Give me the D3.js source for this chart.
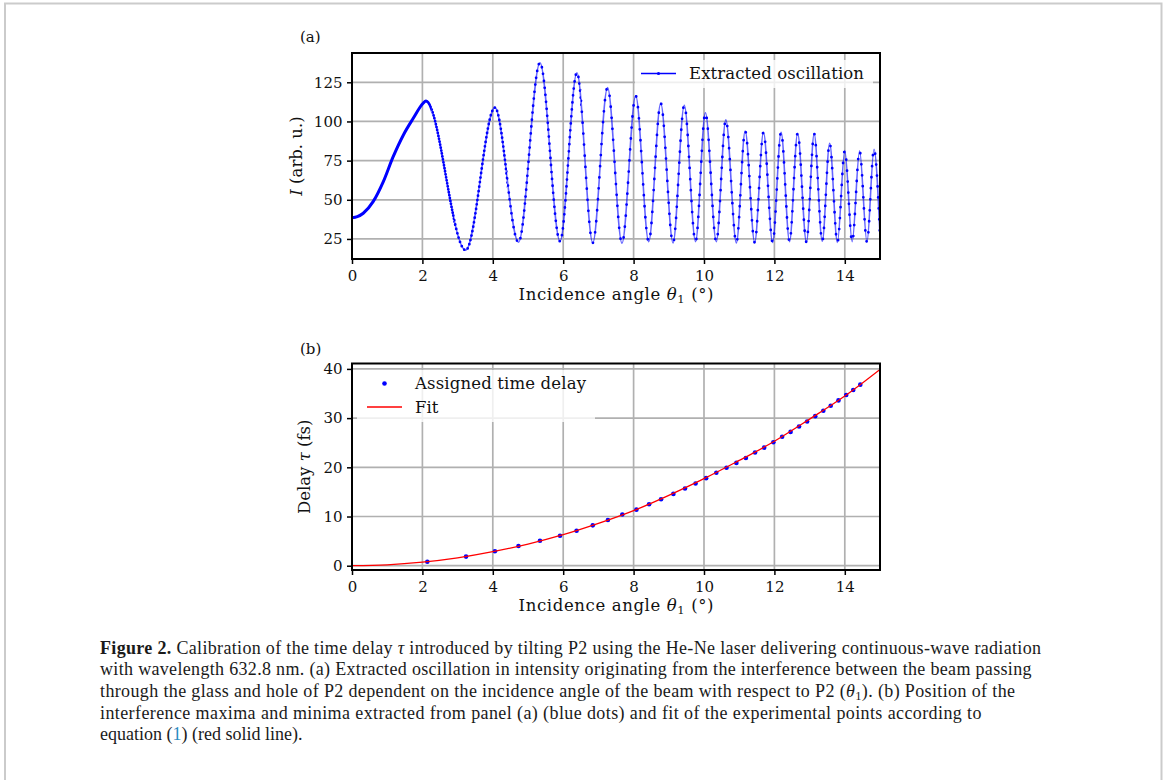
<!DOCTYPE html>
<html>
<head>
<meta charset="utf-8">
<script src="https://cdn.jsdelivr.net/npm/d3@7"></script>
<style>
  body { margin: 0; background: #fff; }
  text { font-family: "DejaVu Serif", serif; }
  text.cap { font-family: "Liberation Serif", "Times New Roman", serif; }
</style>
</head>
<body>
<div id="chart"></div>
<script>
// panel (a): extracted oscillation, slow rise then the maxima / minima
const oscAngle = [0, 0.15, 0.32, 0.6, 0.89, 1.17, 1.46, 1.74, 2.02, 2.10,
    3.23, 4.06, 4.73, 5.34, 5.91, 6.39, 6.84, 7.26, 7.67, 8.06,
    8.43, 8.77, 9.12, 9.44, 9.76, 10.04, 10.35, 10.62, 10.92, 11.17,
    11.44, 11.69, 11.95, 12.19, 12.43, 12.66, 12.91, 13.13, 13.36, 13.57,
    13.79, 14.00, 14.21, 14.42, 14.63, 14.83, 15.0];
const oscIntensity = [38.5, 39.2, 41.4, 48.8, 61.6, 77.5, 91.4, 102, 111.6, 113.1,
    17.8, 108.8, 22.9, 137.5, 23.5, 131.1, 22.5, 121.6, 22.3, 116.3,
    23.3, 111.6, 22.5, 110.3, 23.3, 105.6, 23.3, 101, 22.5, 93.9,
    22.8, 93.1, 22.8, 93.1, 23.3, 92.5, 23, 92.1, 23.5, 86.1,
    22.8, 81.4, 23.3, 81.2, 23, 82.3, 27];

// panel (b): assigned time delay at each extremum
const delayAngle = [2.14, 3.24, 4.06, 4.73, 5.34, 5.91, 6.38, 6.84, 7.27, 7.68,
    8.08, 8.44, 8.78, 9.13, 9.46, 9.76, 10.06, 10.35, 10.64, 10.92,
    11.19, 11.45, 11.71, 11.97, 12.22, 12.46, 12.70, 12.93, 13.16, 13.39,
    13.60, 13.82, 14.04, 14.24, 14.44];
const delayValue = [0.8, 1.85, 2.95, 4.0, 5.08, 6.1, 7.1, 8.2, 9.3, 10.4,
    11.4, 12.5, 13.5, 14.6, 15.7, 16.7, 17.8, 18.9, 19.9, 20.9,
    21.9, 23.0, 24.0, 25.1, 26.2, 27.2, 28.3, 29.3, 30.4, 31.5,
    32.5, 33.6, 34.7, 35.7, 36.8];

// fit curve
const fitAngle = [0, 1, 2, 3, 4, 5, 6, 7, 8, 9, 10, 11, 12, 13, 14, 15];
const fitDelay = [0, 0.18, 0.72, 1.6, 2.85, 4.4, 6.3, 8.6, 11.2, 14.3, 17.7, 21.4, 25.3, 29.8, 34.5, 39.9];

const xTicks = [0, 2, 4, 6, 8, 10, 12, 14];
const yTicksA = [25, 50, 75, 100, 125];
const yTicksB = [0, 10, 20, 30, 40];

const width = 1165;
const height = 780;
const left = 352, right = 880;
const labelSize = '16.5px';

const svg = d3.select('#chart')
    .append('svg')
    .attr('width', width)
    .attr('height', height);

// grey frame round the whole figure
svg.append('rect')
    .attr('x', 5).attr('y', 3.5)
    .attr('width', 1156.5).attr('height', 820)
    .attr('fill', 'none')
    .attr('stroke', '#cbcbcb')
    .attr('stroke-width', 2);

const defs = svg.append('defs');

function panel(top, bottom, yDomain, yTicks) {
    const x = d3.scaleLinear().domain([0, 15]).range([left, right]);
    const y = d3.scaleLinear().domain(yDomain).range([bottom, top]);
    const g = svg.append('g');

    // grid
    g.append('g').selectAll('line').data(xTicks).join('line')
        .attr('x1', d => x(d)).attr('x2', d => x(d))
        .attr('y1', top).attr('y2', bottom)
        .attr('stroke', '#b0b0b0').attr('stroke-width', 1.7);
    g.append('g').selectAll('line').data(yTicks).join('line')
        .attr('x1', left).attr('x2', right)
        .attr('y1', d => y(d)).attr('y2', d => y(d))
        .attr('stroke', '#b0b0b0').attr('stroke-width', 1.7);

    // axes
    const xAxis = g.append('g')
        .attr('transform', 'translate(0,' + bottom + ')')
        .call(d3.axisBottom(x).tickValues(xTicks).tickSize(5).tickPadding(6.5));
    const yAxis = g.append('g')
        .attr('transform', 'translate(' + left + ',0)')
        .call(d3.axisLeft(y).tickValues(yTicks).tickSize(5).tickPadding(4.5));
    [xAxis, yAxis].forEach(a => {
        a.select('.domain').remove();
        a.selectAll('line').attr('stroke', '#000').attr('stroke-width', 1.5);
        a.selectAll('text')
            .style('font-family', 'DejaVu Serif')
            .style('font-size', '15px')
            .attr('fill', '#111');
    });
    return { x, y, g };
}

function spine(top, bottom) {
    svg.append('rect')
        .attr('x', left).attr('y', top)
        .attr('width', right - left).attr('height', bottom - top)
        .attr('fill', 'none')
        .attr('stroke', '#000')
        .attr('stroke-width', 2);
}

function xLabel(yPos) {
    const t = svg.append('text')
        .attr('x', (left + right) / 2).attr('y', yPos)
        .attr('text-anchor', 'middle')
        .attr('textLength', 195).attr('lengthAdjust', 'spacing')
        .style('font-size', labelSize)
        .attr('fill', '#111');
    t.append('tspan').text('Incidence angle ');
    t.append('tspan').attr('font-style', 'italic').text('θ');
    t.append('tspan').attr('font-size', '11.5px').attr('dy', 3).text('1');
    t.append('tspan').attr('dy', -3).text(' (°)');
}

// ---------- panel (a) ----------
const topA = 53, bottomA = 259;
const A = panel(topA, bottomA, [12.2, 143.7], yTicksA);

defs.append('clipPath').attr('id', 'clipA')
    .append('rect').attr('x', left).attr('y', topA)
    .attr('width', right - left).attr('height', bottomA - topA);

const oscData = oscAngle.map((a, i) => [a, oscIntensity[i]]);
const oscLine = d3.line()
    .x(d => A.x(d[0]))
    .y(d => A.y(d[1]))
    .curve(d3.curveMonotoneX);

const oscG = svg.append('g').attr('clip-path', 'url(#clipA)');
oscG.append('path')
    .datum(oscData)
    .attr('d', oscLine)
    .attr('fill', 'none')
    .attr('stroke', '#0000ff')
    .attr('stroke-opacity', 0.6)
    .attr('stroke-width', 1.6);

// sample markers: denser at small angles, like the recorded trace
const markerBands = [
    { from: 0, to: 2.25, gap: 0 },
    { from: 2.25, to: 2.9, gap: 3 },
    { from: 2.9, to: 4.4, gap: 4.5 },
    { from: 4.4, to: 6.5, gap: 7 },
    { from: 6.5, to: 15.2, gap: 11 }
];
markerBands.forEach((b, i) => {
    defs.append('clipPath').attr('id', 'band' + i)
        .append('rect')
        .attr('x', A.x(b.from)).attr('y', topA)
        .attr('width', A.x(b.to) - A.x(b.from)).attr('height', bottomA - topA);
    const p = oscG.append('g').attr('clip-path', 'url(#band' + i + ')')
        .append('path')
        .datum(oscData)
        .attr('d', oscLine)
        .attr('fill', 'none')
        .attr('stroke', '#0000ff');
    if (b.gap === 0) {
        p.attr('stroke-width', 3);
    } else {
        p.attr('stroke-width', 2.8)
            .attr('stroke-linecap', 'round')
            .attr('stroke-dasharray', '0 ' + b.gap);
    }
});

spine(topA, bottomA);

// legend (a)
svg.append('rect')
    .attr('x', 635).attr('y', 60).attr('width', 238).attr('height', 28)
    .attr('rx', 3)
    .attr('fill', '#fff').attr('fill-opacity', 0.8);
svg.append('line')
    .attr('x1', 641).attr('x2', 676).attr('y1', 73.5).attr('y2', 73.5)
    .attr('stroke', '#0000ff').attr('stroke-width', 1.6);
svg.append('circle')
    .attr('cx', 658.5).attr('cy', 73.5).attr('r', 1.6)
    .attr('fill', '#0000ff');
svg.append('text')
    .attr('x', 689).attr('y', 79)
    .attr('textLength', 175).attr('lengthAdjust', 'spacing')
    .style('font-size', labelSize).attr('fill', '#111')
    .text('Extracted oscillation');

// y label (a)
const ylA = svg.append('text')
    .attr('transform', 'translate(302,' + ((topA + bottomA) / 2) + ') rotate(-90)')
    .attr('text-anchor', 'middle')
    .style('font-size', labelSize).attr('fill', '#111');
ylA.append('tspan').attr('font-style', 'italic').text('I');
ylA.append('tspan').text(' (arb. u.)');

xLabel(300);

svg.append('text').attr('x', 300).attr('y', 42)
    .style('font-size', '15px').attr('fill', '#111').text('(a)');

// ---------- panel (b) ----------
const topB = 363.5, bottomB = 570;
const B = panel(topB, bottomB, [-0.87, 41.1], yTicksB);

defs.append('clipPath').attr('id', 'clipB')
    .append('rect').attr('x', left).attr('y', topB)
    .attr('width', right - left).attr('height', bottomB - topB);

const bG = svg.append('g').attr('clip-path', 'url(#clipB)');
bG.append('g').selectAll('circle')
    .data(delayAngle.map((a, i) => [a, delayValue[i]]))
    .join('circle')
    .attr('cx', d => B.x(d[0]))
    .attr('cy', d => B.y(d[1]))
    .attr('r', 2.3)
    .attr('fill', '#0000ff');

bG.append('path')
    .datum(fitAngle.map((a, i) => [a, fitDelay[i]]))
    .attr('d', d3.line().x(d => B.x(d[0])).y(d => B.y(d[1])).curve(d3.curveNatural))
    .attr('fill', 'none')
    .attr('stroke', '#ff0000')
    .attr('stroke-width', 1.3);

spine(topB, bottomB);

// legend (b)
svg.append('rect')
    .attr('x', 357).attr('y', 370).attr('width', 238).attr('height', 52)
    .attr('rx', 3)
    .attr('fill', '#fff').attr('fill-opacity', 0.8);
svg.append('circle')
    .attr('cx', 384.5).attr('cy', 383.5).attr('r', 2.3)
    .attr('fill', '#0000ff');
svg.append('text')
    .attr('x', 415).attr('y', 389)
    .attr('textLength', 171).attr('lengthAdjust', 'spacing')
    .style('font-size', labelSize).attr('fill', '#111')
    .text('Assigned time delay');
svg.append('line')
    .attr('x1', 367).attr('x2', 402).attr('y1', 407).attr('y2', 407)
    .attr('stroke', '#ff0000').attr('stroke-width', 1.6);
svg.append('text')
    .attr('x', 415).attr('y', 412.5)
    .style('font-size', labelSize).attr('fill', '#111')
    .text('Fit');

const ylB = svg.append('text')
    .attr('transform', 'translate(310,' + ((topB + bottomB) / 2) + ') rotate(-90)')
    .attr('text-anchor', 'middle')
    .style('font-size', labelSize).attr('fill', '#111');
ylB.append('tspan').text('Delay ');
ylB.append('tspan').attr('font-style', 'italic').text('τ');
ylB.append('tspan').text(' (fs)');

xLabel(611);

svg.append('text').attr('x', 300).attr('y', 354)
    .style('font-size', '15px').attr('fill', '#111').text('(b)');

// ---------- caption ----------
const capLines = [
    { y: 653.5, len: 941, parts: [
        { t: 'Figure 2.', b: true }, { t: ' Calibration of the time delay ' }, { t: 'τ', i: true },
        { t: ' introduced by tilting P2 using the He-Ne laser delivering continuous-wave radiation' }] },
    { y: 675.2, len: 931.5, parts: [
        { t: 'with wavelength 632.8 nm. (a) Extracted oscillation in intensity originating from the interference between the beam passing' }] },
    { y: 696.9, len: 915, parts: [
        { t: 'through the glass and hole of P2 dependent on the incidence angle of the beam with respect to P2 (' },
        { t: 'θ', i: true }, { t: '1', sub: true }, { t: '). (b) Position of the', up: true }] },
    { y: 718.6, len: 881.5, parts: [
        { t: 'interference maxima and minima extracted from panel (a) (blue dots) and fit of the experimental points according to' }] },
    { y: 740.3, len: 0, parts: [
        { t: 'equation (' }, { t: '1', c: '#2b8cbf' }, { t: ') (red solid line).' }] }
];
capLines.forEach(line => {
    const t = svg.append('text')
        .attr('class', 'cap')
        .attr('x', 100).attr('y', line.y)
        .style('font-size', '18px')
        .attr('fill', '#1a1a1a');
    if (line.len) t.attr('textLength', line.len).attr('lengthAdjust', 'spacing');
    line.parts.forEach(p => {
        const s = t.append('tspan').text(p.t);
        if (p.b) s.attr('font-weight', 'bold');
        if (p.i) s.attr('font-style', 'italic');
        if (p.c) s.attr('fill', p.c);
        if (p.sub) s.attr('font-size', '12.5px').attr('dy', 3.5);
        if (p.up) s.attr('dy', -3.5);
    });
});
</script>
</body>
</html>
